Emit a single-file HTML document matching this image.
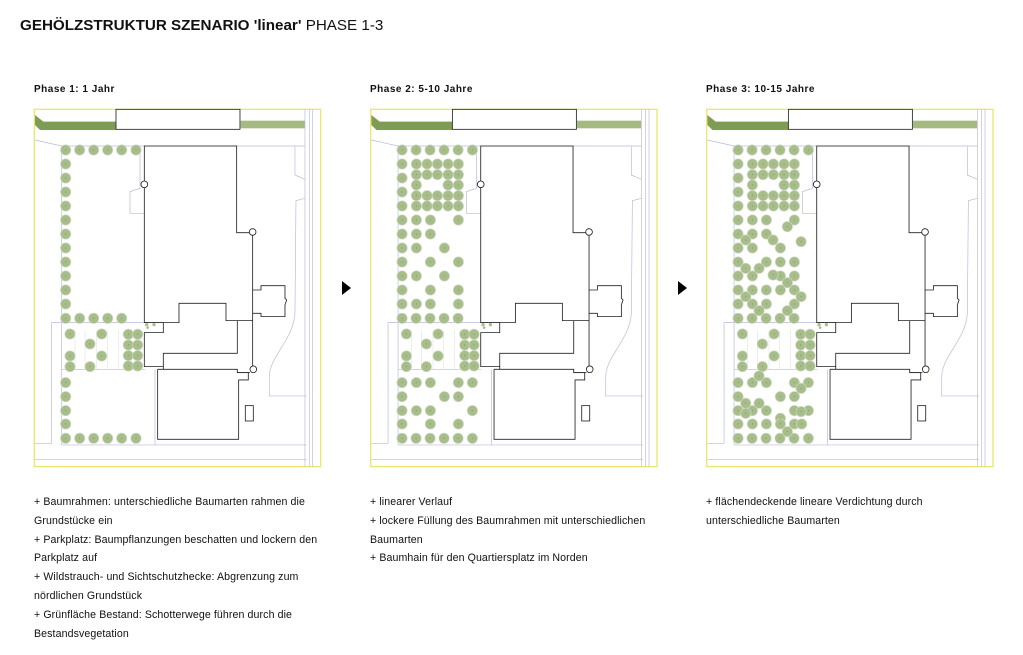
<!DOCTYPE html>
<html><head><meta charset="utf-8"><style>
body{margin:0;background:#fff;width:1023px;height:655px;overflow:hidden;position:relative;font-family:"Liberation Sans",sans-serif;color:#111}
.title{position:absolute;left:20px;top:17px;font-size:15.2px;white-space:nowrap}
.ph{position:absolute;top:84px;font-size:10px;font-weight:bold;letter-spacing:0.5px}
.tx{position:absolute;top:493px;font-size:10.6px;line-height:18.8px;white-space:nowrap;letter-spacing:0.1px}
svg{position:absolute;left:0;top:0}
</style></head><body>
<div class="title"><b>GEHÖLZSTRUKTUR SZENARIO 'linear'</b> PHASE 1-3</div>
<div class="ph" style="left:34px">Phase 1: 1 Jahr</div>
<div class="ph" style="left:370px">Phase 2: 5-10 Jahre</div>
<div class="ph" style="left:706px">Phase 3: 10-15 Jahre</div>
<div class="tx" style="left:34px">+ Baumrahmen: unterschiedliche Baumarten rahmen die<br>Grundstücke ein<br>+ Parkplatz: Baumpflanzungen beschatten und lockern den<br>Parkplatz auf<br>+ Wildstrauch- und Sichtschutzhecke: Abgrenzung zum<br>nördlichen Grundstück<br>+ Grünfläche Bestand: Schotterwege führen durch die<br>Bestandsvegetation</div>
<div class="tx" style="left:370px">+ linearer Verlauf<br>+ lockere Füllung des Baumrahmen mit unterschiedlichen<br>Baumarten<br>+ Baumhain für den Quartiersplatz im Norden</div>
<div class="tx" style="left:706px">+ flächendeckende lineare Verdichtung durch<br>unterschiedliche Baumarten</div>
<svg width="1023" height="655" viewBox="0 0 1023 655">
<defs>
<g id="t"><circle r="16.5" fill="#cfd9c4"/><circle r="14.5" fill="#a7bd8a"/><circle r="1.6" fill="#76895f"/></g>
<g id="plan" fill="none">
<rect x="13" y="28" width="859" height="1072" stroke="#ece66c" stroke-width="4"/>
<polygon points="15,45 40,65 258,65 258,90 30,90 15,75" fill="#7f9c55"/>
<rect x="632" y="62" width="193" height="23" fill="#a4ba80"/>
<g stroke="#b9b8dc" stroke-width="2">
<polyline points="15,120 95,138 825,138"/>
<line x1="825" y1="28" x2="825" y2="1100"/><line x1="838" y1="28" x2="838" y2="1100"/><line x1="848" y1="28" x2="848" y2="1100"/>
<line x1="95" y1="1035" x2="830" y2="1035"/><line x1="15" y1="1078" x2="830" y2="1078"/>
<polyline points="15,1030 65,1030 65,668 345,668"/>
<line x1="95" y1="138" x2="95" y2="1035"/>
<line x1="95" y1="808" x2="345" y2="808"/>
<line x1="375" y1="808" x2="375" y2="1035"/>
<polyline points="330,138 330,265 300,275 300,340 343,340"/>
<polyline points="795,140 795,225 825,238"/>
<path d="M825,295 L798,302 L795,640 C790,720 718,770 718,830 L718,888 L830,888"/>
</g>
<g stroke="#dcdcdc" stroke-width="1.5">
<line x1="135" y1="690" x2="135" y2="808"/><line x1="165" y1="690" x2="165" y2="808"/><line x1="200" y1="690" x2="200" y2="808"/><line x1="232" y1="690" x2="232" y2="808"/><line x1="265" y1="690" x2="265" y2="808"/>
</g>
<g stroke="#222" stroke-width="2.5">
<rect x="258" y="28" width="372" height="60" fill="#fff"/>
<polyline points="343,253 343,138 620,138 620,398 668,398"/>
<polyline points="343,253 343,668 400,668 400,698 343,698 343,800 400,800 400,808"/>
<polyline points="400,800 400,760 622,760 622,662"/>
<polyline points="343,668 447,668 447,610 588,610 588,662 668,662"/>
<line x1="668" y1="398" x2="668" y2="808"/>
<polyline points="383,808 622,808 622,818 655,818 655,840 626,840 626,1018 383,1018 383,808"/>
<polyline points="622,818 660,818"/>
<polyline points="668,570 693,570 693,557 765,557 765,595 770,600 765,615 765,650 693,650 693,640 668,640"/>
<rect x="646" y="917" width="24" height="46"/>
<circle cx="343" cy="253" r="10" fill="#fff"/><circle cx="668" cy="396" r="10" fill="#fff"/><circle cx="670" cy="808" r="10" fill="#fff"/>
</g>
<g fill="#a7bd8a"><circle cx="350" cy="674" r="5"/><circle cx="372" cy="674" r="5"/><circle cx="353" cy="683" r="4"/></g>
</g>
<g id="park">
<use href="#t" x="120" y="702"/><use href="#t" x="215" y="702"/><use href="#t" x="180" y="732"/><use href="#t" x="120" y="768"/><use href="#t" x="215" y="768"/><use href="#t" x="120" y="800"/><use href="#t" x="180" y="800"/>
<use href="#t" x="295" y="703"/><use href="#t" x="323" y="703"/><use href="#t" x="295" y="735"/><use href="#t" x="323" y="735"/><use href="#t" x="295" y="767"/><use href="#t" x="323" y="767"/><use href="#t" x="295" y="798"/><use href="#t" x="323" y="798"/>
</g>
<g id="frame">
<use href="#t" x="107" y="150"/><use href="#t" x="149" y="150"/><use href="#t" x="191" y="150"/><use href="#t" x="233" y="150"/><use href="#t" x="275" y="150"/><use href="#t" x="318" y="150"/>
<use href="#t" x="107" y="192"/><use href="#t" x="107" y="234"/><use href="#t" x="107" y="276"/><use href="#t" x="107" y="318"/><use href="#t" x="107" y="360"/><use href="#t" x="107" y="402"/><use href="#t" x="107" y="444"/><use href="#t" x="107" y="486"/><use href="#t" x="107" y="528"/><use href="#t" x="107" y="570"/><use href="#t" x="107" y="612"/>
<use href="#t" x="107" y="655"/><use href="#t" x="149" y="655"/><use href="#t" x="191" y="655"/><use href="#t" x="233" y="655"/><use href="#t" x="275" y="655"/>
<use href="#t" x="107" y="848"/><use href="#t" x="107" y="890"/><use href="#t" x="107" y="932"/><use href="#t" x="107" y="972"/>
<use href="#t" x="107" y="1015"/><use href="#t" x="149" y="1015"/><use href="#t" x="191" y="1015"/><use href="#t" x="233" y="1015"/><use href="#t" x="275" y="1015"/><use href="#t" x="318" y="1015"/>
<use href="#park"/>
</g>
<g id="fill2">
<use href="#t" x="150" y="192"/><use href="#t" x="182" y="192"/><use href="#t" x="213" y="192"/><use href="#t" x="245" y="192"/><use href="#t" x="276" y="192"/>
<use href="#t" x="150" y="224"/><use href="#t" x="182" y="224"/><use href="#t" x="213" y="224"/><use href="#t" x="245" y="224"/><use href="#t" x="276" y="224"/>
<use href="#t" x="150" y="255"/><use href="#t" x="245" y="255"/><use href="#t" x="276" y="255"/>
<use href="#t" x="150" y="287"/><use href="#t" x="182" y="287"/><use href="#t" x="213" y="287"/><use href="#t" x="245" y="287"/><use href="#t" x="276" y="287"/>
<use href="#t" x="150" y="318"/><use href="#t" x="182" y="318"/><use href="#t" x="213" y="318"/><use href="#t" x="245" y="318"/><use href="#t" x="276" y="318"/>
<use href="#t" x="150" y="360"/><use href="#t" x="192" y="360"/><use href="#t" x="276" y="360"/>
<use href="#t" x="150" y="402"/><use href="#t" x="192" y="402"/>
<use href="#t" x="150" y="444"/><use href="#t" x="234" y="444"/>
<use href="#t" x="192" y="486"/><use href="#t" x="276" y="486"/>
<use href="#t" x="150" y="528"/><use href="#t" x="234" y="528"/>
<use href="#t" x="192" y="570"/><use href="#t" x="276" y="570"/>
<use href="#t" x="150" y="612"/><use href="#t" x="192" y="612"/><use href="#t" x="276" y="612"/>
<use href="#t" x="150" y="848"/><use href="#t" x="192" y="848"/><use href="#t" x="276" y="848"/><use href="#t" x="318" y="848"/>
<use href="#t" x="234" y="890"/><use href="#t" x="276" y="890"/>
<use href="#t" x="150" y="932"/><use href="#t" x="192" y="932"/><use href="#t" x="318" y="932"/>
<use href="#t" x="192" y="972"/><use href="#t" x="276" y="972"/>
</g>
</defs>
<g transform="translate(30,100) scale(0.3333)"><use href="#plan"/><use href="#frame"/></g>
<g transform="translate(366.4,100) scale(0.3333)"><use href="#plan"/><use href="#frame"/><use href="#fill2"/></g>
<g transform="translate(702.4,100) scale(0.3333)"><use href="#plan"/><use href="#frame"/><use href="#fill2"/>
<use href="#t" x="255" y="380"/><use href="#t" x="130" y="420"/><use href="#t" x="212" y="420"/><use href="#t" x="296" y="425"/>
<use href="#t" x="234" y="486"/><use href="#t" x="130" y="505"/><use href="#t" x="170" y="505"/><use href="#t" x="212" y="525"/>
<use href="#t" x="276" y="528"/><use href="#t" x="255" y="548"/><use href="#t" x="150" y="570"/><use href="#t" x="234" y="570"/>
<use href="#t" x="130" y="590"/><use href="#t" x="296" y="590"/><use href="#t" x="170" y="632"/><use href="#t" x="255" y="632"/>
<use href="#t" x="170" y="828"/><use href="#t" x="296" y="865"/><use href="#t" x="130" y="910"/><use href="#t" x="170" y="910"/>
<use href="#t" x="276" y="932"/><use href="#t" x="130" y="940"/><use href="#t" x="234" y="955"/><use href="#t" x="150" y="972"/>
<use href="#t" x="234" y="972"/><use href="#t" x="298" y="972"/><use href="#t" x="255" y="995"/><use href="#t" x="296" y="935"/>
</g>
<polygon points="342,281 351,288 342,295" fill="#000"/>
<polygon points="678,281 687,288 678,295" fill="#000"/>
</svg>
</body></html>
